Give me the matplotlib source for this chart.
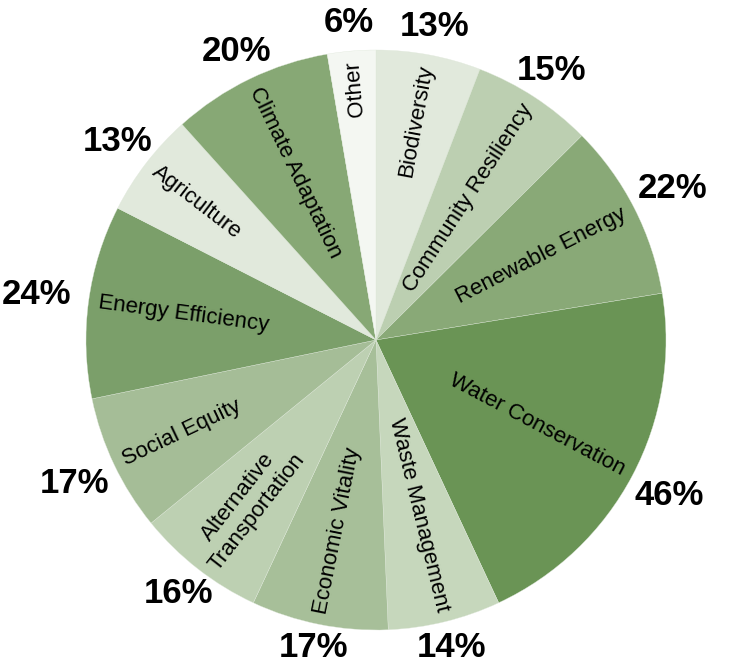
import numpy as np
import matplotlib
matplotlib.use("Agg")
import matplotlib.pyplot as plt

# slices clockwise from 12 o'clock
categories = ["Biodiversity", "Community Resiliency", "Renewable Energy", "Water Conservation",
              "Waste Management", "Economic Vitality", "Alternative\nTransportation", "Social Equity",
              "Energy Efficiency", "Agriculture", "Climate Adaptation", "Other"]
values = [13, 15, 22, 46, 14, 17, 16, 17, 24, 13, 20, 6]
colors = ["#e1e9dc", "#bccfb1", "#89a977", "#6a9455", "#c6d7bc", "#a7bf99",
          "#bdd0b2", "#a5bd97", "#7b9f6a", "#e1e9dc", "#87a875", "#f4f7f2"]

plt.rcParams['font.family'] = ['Liberation Sans', 'DejaVu Sans']

fig = plt.figure(figsize=(7.35, 6.66), dpi=100)
ax = fig.add_axes([0, 0, 1, 1])

wedges, _ = ax.pie(values, colors=colors, startangle=90, counterclock=False, radius=1,
                   wedgeprops=dict(linewidth=0.25, edgecolor="#dfe8da"))

R = 290.0  # px per data unit
ax.set_xlim(-376 / R, (735 - 376) / R)
ax.set_ylim(-(666 - 340) / R, 340 / R)
ax.set_aspect('equal')
ax.axis('off')

pct_texts = []
for w, name, v in zip(wedges, categories, values):
    mid = (w.theta1 + w.theta2) / 2.0
    mid = (mid + 180) % 360 - 180
    a = np.deg2rad(mid)
    c, s = np.cos(a), np.sin(a)
    # category label, radial, outer end near the rim
    r_in = 0.965
    if c >= -0.1:
        rot, ha = mid, 'right'
    else:
        rot, ha = mid - 180 if mid > 0 else mid + 180, 'left'
    ax.text(r_in * c, r_in * s, name, rotation=rot, rotation_mode='anchor',
            ha=ha, va='center', multialignment='center', fontsize=16, color='black')
    # value label outside
    t = ax.text(1.05 * c, 1.05 * s, f"{v}%", ha='center', va='center',
                fontsize=25, fontweight='bold', color='black')
    pct_texts.append((t, c, s))

fig.canvas.draw()
inv = ax.transData.inverted()
for t, c, s in pct_texts:
    bb = t.get_window_extent()
    p0 = inv.transform((bb.x0, bb.y0))
    p1 = inv.transform((bb.x1, bb.y1))
    hw = (p1[0] - p0[0]) / 2.0
    hh = (p1[1] - p0[1]) / 2.0 * 0.7
    d = min(hw / max(abs(c), 1e-6), hh / max(abs(s), 1e-6))
    r = 1.06 + d
    x, y = r * c, r * s
    # keep inside the figure
    ymin = ax.get_ylim()[0] + (p1[1] - p0[1]) / 2.0 + 2 / R
    ymax = ax.get_ylim()[1] - (p1[1] - p0[1]) / 2.0 - 2 / R
    t.set_position((x, min(max(y, ymin), ymax)))

fig.savefig("out.png", dpi=100)
